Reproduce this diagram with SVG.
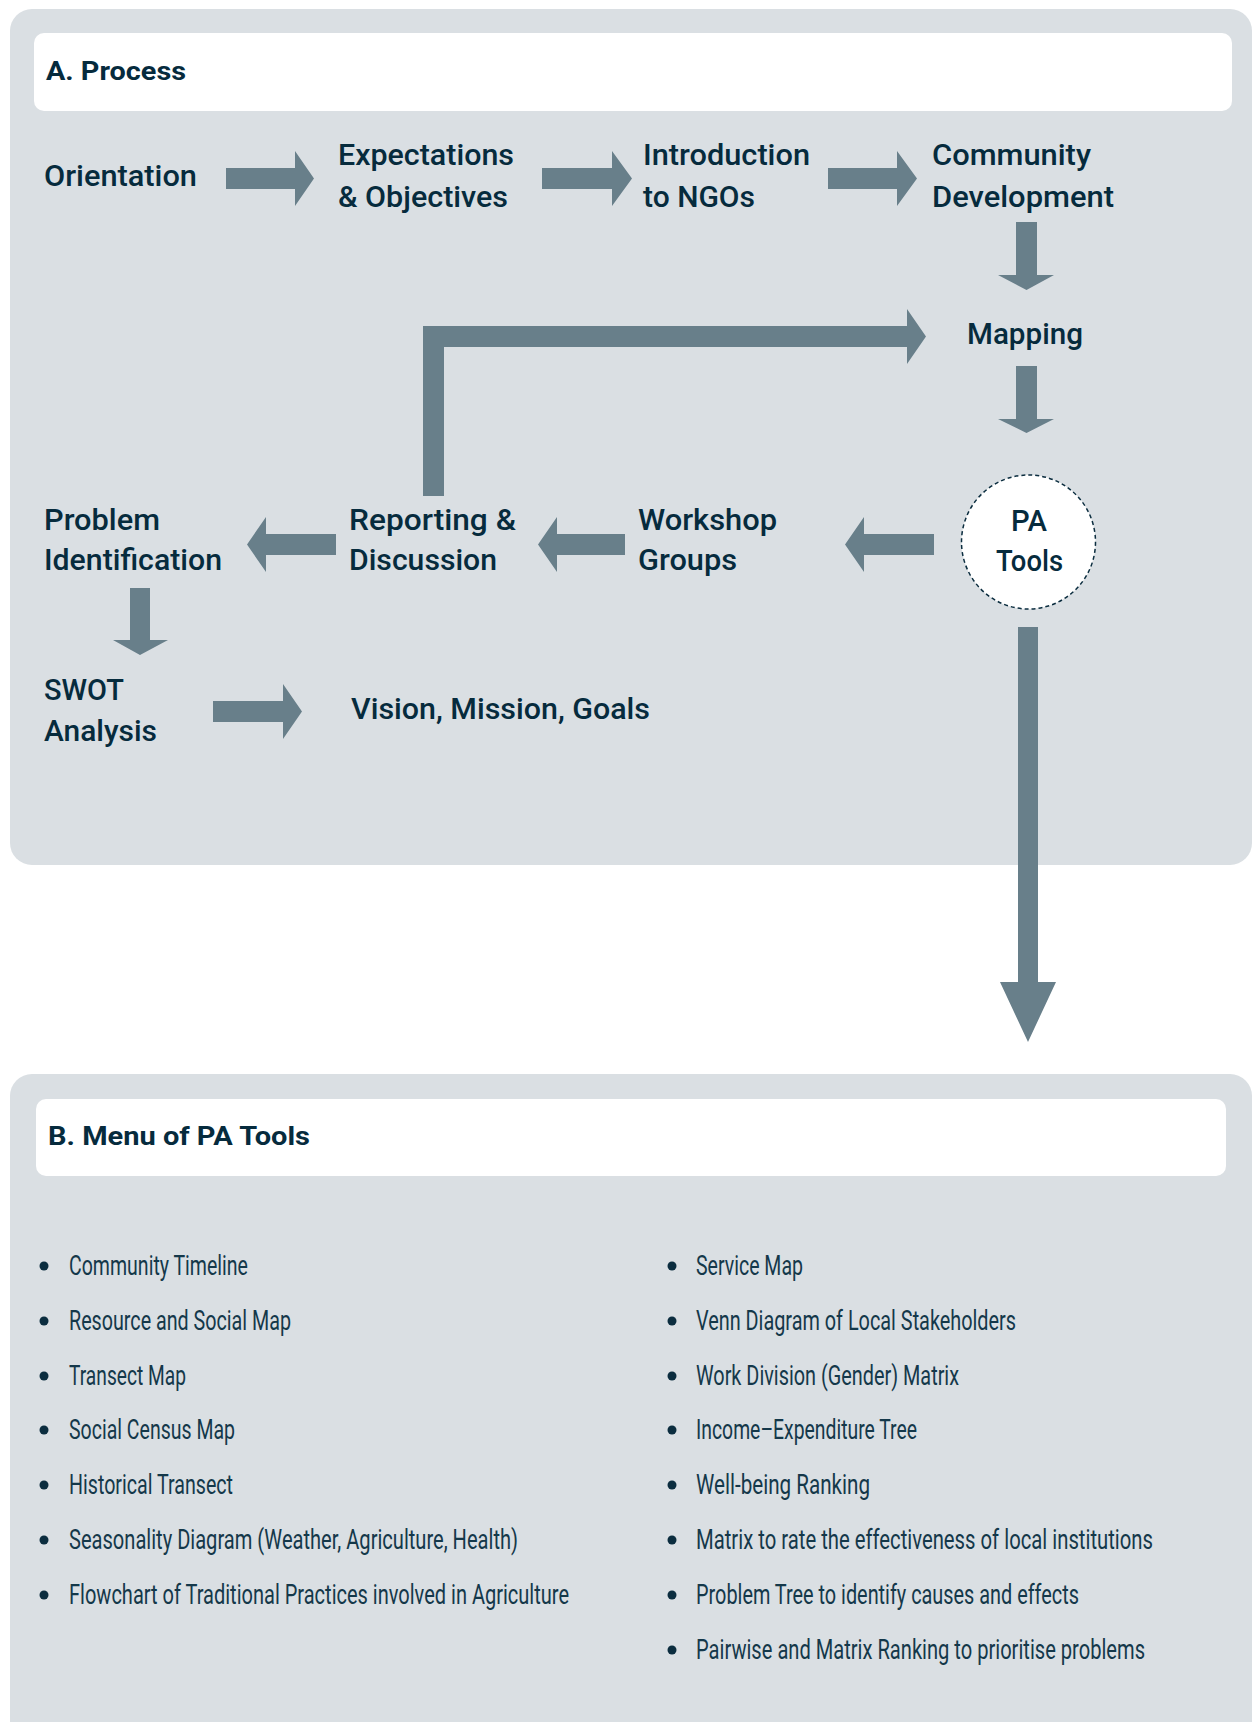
<svg xmlns="http://www.w3.org/2000/svg" width="1255" height="1722" viewBox="0 0 1255 1722">
  <style>
    .panel { fill: #dadfe3; }
    .header { fill: #ffffff; }
    .arr { fill: #687f8a; }
    .hd { font-family: Roboto, "Liberation Sans", "DejaVu Sans", sans-serif; font-weight: 700; font-size: 25px; fill: #062b3d; }
    .nd { font-family: Roboto, "Liberation Sans", "DejaVu Sans", sans-serif; font-weight: 500; font-size: 30px; fill: #062b3d; }
    .li { font-family: Roboto, "Liberation Sans", "DejaVu Sans", sans-serif; font-weight: 400; font-size: 27px; fill: #14384a; }
    .dot { fill: #0b2d3f; }
    .ring { fill: #ffffff; stroke: #0b2d3f; stroke-width: 1.5; stroke-dasharray: 4 3; }
  </style>

  <!-- Section panels -->
  <rect class="panel" x="10" y="9" width="1242" height="856" rx="22"/>
  <rect class="panel" x="10" y="1074" width="1242" height="700" rx="22"/>

  <g id="header-process">
    <rect class="header" x="34" y="33" width="1198" height="78" rx="10"/>
    <text class="hd" x="46" y="80" textLength="140" lengthAdjust="spacingAndGlyphs">A. Process</text>
  </g>
  <g id="header-menu">
    <rect class="header" x="36" y="1099" width="1190" height="77" rx="10"/>
    <text class="hd" x="48" y="1145" textLength="262" lengthAdjust="spacingAndGlyphs">B. Menu of PA Tools</text>
  </g>

  <!-- Block arrows between the steps -->
  <g id="connectors">
    <polygon class="arr" points="226,168 295,168 295,151 314,178.5 295,206 295,189 226,189"/>
    <polygon class="arr" points="542,168 612,168 612,151 632,178.5 612,206 612,189 542,189"/>
    <polygon class="arr" points="828,168 897,168 897,151 917,178.5 897,206 897,189 828,189"/>
    <polygon class="arr" points="1016,222 1037,222 1037,275 1054,275 1026.5,290 998,275 1016,275"/>
    <polygon class="arr" points="423,496 423,326 907,326 907,309 926,336.5 907,364 907,347 444,347 444,496"/>
    <polygon class="arr" points="1016,366 1037,366 1037,419 1054,419 1026.5,433 998,419 1016,419"/>
    <polygon class="arr" points="934,534 864,534 864,517 845,544.5 864,572 864,555 934,555"/>
    <polygon class="arr" points="625,534 557,534 557,517 538,544.5 557,572 557,555 625,555"/>
    <polygon class="arr" points="336,534 266,534 266,517 247,544.5 266,572 266,555 336,555"/>
    <polygon class="arr" points="130,588 150,588 150,640 168,640 140,655 113,640 130,640"/>
    <polygon class="arr" points="213,701 283,701 283,684 302,711.5 283,739 283,722 213,722"/>
    <polygon class="arr" points="1018,627 1038,627 1038,982 1056,982 1028,1042 1000,982 1018,982"/>
  </g>

  <!-- Process steps -->
  <g id="orientation">
    <text class="nd" x="44" y="186" textLength="153" lengthAdjust="spacingAndGlyphs">Orientation</text>
  </g>
  <g id="expectations">
    <text class="nd" x="338" y="165" textLength="176" lengthAdjust="spacingAndGlyphs">Expectations</text>
    <text class="nd" x="338" y="207" textLength="170" lengthAdjust="spacingAndGlyphs">&amp; Objectives</text>
  </g>
  <g id="introduction">
    <text class="nd" x="643" y="165" textLength="167" lengthAdjust="spacingAndGlyphs">Introduction</text>
    <text class="nd" x="643" y="207" textLength="112" lengthAdjust="spacingAndGlyphs">to NGOs</text>
  </g>
  <g id="community-development">
    <text class="nd" x="932" y="165" textLength="159" lengthAdjust="spacingAndGlyphs">Community</text>
    <text class="nd" x="932" y="207" textLength="182" lengthAdjust="spacingAndGlyphs">Development</text>
  </g>
  <g id="mapping">
    <text class="nd" x="967" y="344" textLength="116" lengthAdjust="spacingAndGlyphs">Mapping</text>
  </g>
  <g id="pa-tools">
    <circle class="ring" cx="1028.5" cy="542" r="67"/>
    <text class="nd" x="1029" y="531" text-anchor="middle" textLength="36" lengthAdjust="spacingAndGlyphs">PA</text>
    <text class="nd" x="1029.5" y="571" text-anchor="middle" textLength="67" lengthAdjust="spacingAndGlyphs">Tools</text>
  </g>
  <g id="workshop-groups">
    <text class="nd" x="638" y="530" textLength="139" lengthAdjust="spacingAndGlyphs">Workshop</text>
    <text class="nd" x="638" y="570" textLength="99" lengthAdjust="spacingAndGlyphs">Groups</text>
  </g>
  <g id="reporting-discussion">
    <text class="nd" x="349" y="530" textLength="167" lengthAdjust="spacingAndGlyphs">Reporting &amp;</text>
    <text class="nd" x="349" y="570" textLength="148" lengthAdjust="spacingAndGlyphs">Discussion</text>
  </g>
  <g id="problem-identification">
    <text class="nd" x="44" y="530" textLength="116" lengthAdjust="spacingAndGlyphs">Problem</text>
    <text class="nd" x="44" y="570" textLength="178" lengthAdjust="spacingAndGlyphs">Identification</text>
  </g>
  <g id="swot-analysis">
    <text class="nd" x="44" y="700" textLength="80" lengthAdjust="spacingAndGlyphs">SWOT</text>
    <text class="nd" x="44" y="741" textLength="113" lengthAdjust="spacingAndGlyphs">Analysis</text>
  </g>
  <g id="vision-mission-goals">
    <text class="nd" x="351" y="719" textLength="299" lengthAdjust="spacingAndGlyphs">Vision, Mission, Goals</text>
  </g>

  <!-- Menu of tools, two columns; text is set condensed (x scaled by 0.76) -->
  <g id="tools-left">
    <circle class="dot" cx="44" cy="1266" r="4.5"/>
    <circle class="dot" cx="44" cy="1321" r="4.5"/>
    <circle class="dot" cx="44" cy="1376" r="4.5"/>
    <circle class="dot" cx="44" cy="1430" r="4.5"/>
    <circle class="dot" cx="44" cy="1485" r="4.5"/>
    <circle class="dot" cx="44" cy="1540" r="4.5"/>
    <circle class="dot" cx="44" cy="1595" r="4.5"/>
    <g transform="scale(0.76,1)">
      <text class="li" x="90.8" y="1275" textLength="235.5" lengthAdjust="spacingAndGlyphs">Community Timeline</text>
      <text class="li" x="90.8" y="1330" textLength="292.1" lengthAdjust="spacingAndGlyphs">Resource and Social Map</text>
      <text class="li" x="90.8" y="1385" textLength="153.9" lengthAdjust="spacingAndGlyphs">Transect Map</text>
      <text class="li" x="90.8" y="1439" textLength="218.4" lengthAdjust="spacingAndGlyphs">Social Census Map</text>
      <text class="li" x="90.8" y="1494" textLength="215.8" lengthAdjust="spacingAndGlyphs">Historical Transect</text>
      <text class="li" x="90.8" y="1549" textLength="590.8" lengthAdjust="spacingAndGlyphs">Seasonality Diagram (Weather, Agriculture, Health)</text>
      <text class="li" x="90.8" y="1604" textLength="657.9" lengthAdjust="spacingAndGlyphs">Flowchart of Traditional Practices involved in Agriculture</text>
    </g>
  </g>
  <g id="tools-right">
    <circle class="dot" cx="672" cy="1266" r="4.5"/>
    <circle class="dot" cx="672" cy="1321" r="4.5"/>
    <circle class="dot" cx="672" cy="1376" r="4.5"/>
    <circle class="dot" cx="672" cy="1430" r="4.5"/>
    <circle class="dot" cx="672" cy="1485" r="4.5"/>
    <circle class="dot" cx="672" cy="1540" r="4.5"/>
    <circle class="dot" cx="672" cy="1595" r="4.5"/>
    <circle class="dot" cx="672" cy="1650" r="4.5"/>
    <g transform="scale(0.76,1)">
      <text class="li" x="915.8" y="1275" textLength="140.8" lengthAdjust="spacingAndGlyphs">Service Map</text>
      <text class="li" x="915.8" y="1330" textLength="421.1" lengthAdjust="spacingAndGlyphs">Venn Diagram of Local Stakeholders</text>
      <text class="li" x="915.8" y="1385" textLength="346.1" lengthAdjust="spacingAndGlyphs">Work Division (Gender) Matrix</text>
      <text class="li" x="915.8" y="1439" textLength="290.8" lengthAdjust="spacingAndGlyphs">Income–Expenditure Tree</text>
      <text class="li" x="915.8" y="1494" textLength="228.9" lengthAdjust="spacingAndGlyphs">Well-being Ranking</text>
      <text class="li" x="915.8" y="1549" textLength="601.3" lengthAdjust="spacingAndGlyphs">Matrix to rate the effectiveness of local institutions</text>
      <text class="li" x="915.8" y="1604" textLength="503.9" lengthAdjust="spacingAndGlyphs">Problem Tree to identify causes and effects</text>
      <text class="li" x="915.8" y="1659" textLength="590.8" lengthAdjust="spacingAndGlyphs">Pairwise and Matrix Ranking to prioritise problems</text>
    </g>
  </g>
</svg>
